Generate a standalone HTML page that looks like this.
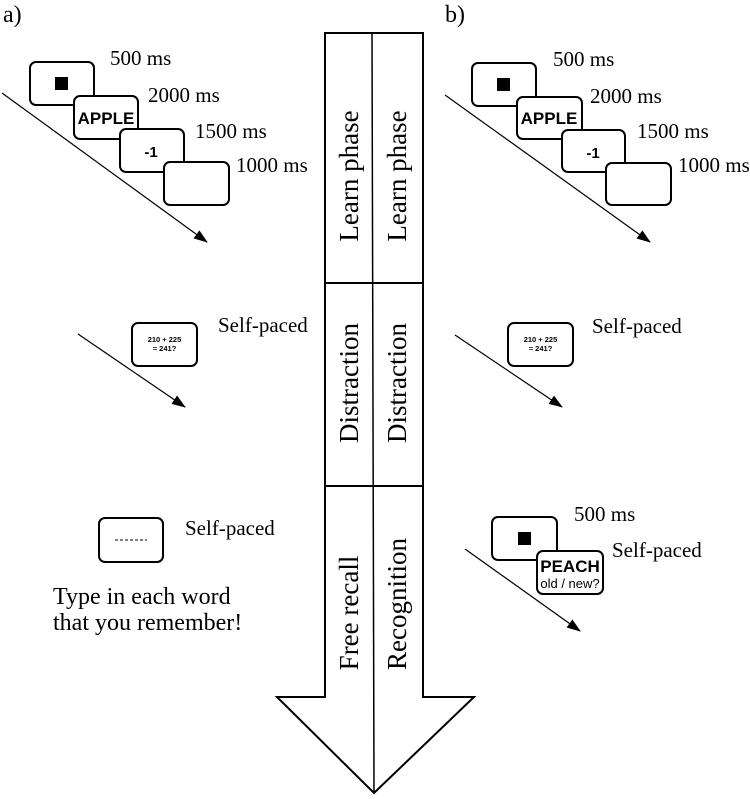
<!DOCTYPE html>
<html><head><meta charset="utf-8"><style>
html,body{margin:0;padding:0;background:#fff;}
svg{display:block;}
.s{font-family:"Liberation Serif",serif;font-size:21px;fill:#000;}
.b{font-family:"Liberation Sans",sans-serif;font-weight:bold;fill:#000;}
.box{fill:#fff;stroke:#000;stroke-width:2;}
</style></head><body>
<svg width="750" height="799" viewBox="0 0 750 799" xmlns="http://www.w3.org/2000/svg">
<defs><marker id="ah" markerWidth="14" markerHeight="10" refX="13" refY="5" orient="auto" markerUnits="userSpaceOnUse"><path d="M0,0 L14,5 L0,10 z" fill="#000"/></marker></defs>
<text x="3" y="22" class="s" style="font-size:24px">a)</text>
<text x="445" y="22" class="s" style="font-size:24px">b)</text>

<!-- a top -->
<line x1="2" y1="93" x2="207" y2="242" stroke="#000" stroke-width="1.2" marker-end="url(#ah)"/>
<rect class="box" x="30" y="62" width="64" height="43" rx="6"/>
<rect x="55" y="77" width="13" height="13" fill="#000"/>
<rect class="box" x="74" y="96" width="64" height="43" rx="6"/>
<text x="106" y="124" class="b" text-anchor="middle" font-size="17">APPLE</text>
<rect class="box" x="120" y="129" width="64" height="43" rx="6"/>
<text x="151" y="157" class="b" text-anchor="middle" font-size="15">-1</text>
<rect class="box" x="164" y="162" width="65" height="43" rx="6"/>
<text x="110" y="65" class="s">500 ms</text>
<text x="148" y="102" class="s">2000 ms</text>
<text x="195" y="138" class="s">1500 ms</text>
<text x="236" y="172" class="s">1000 ms</text>

<!-- b top -->
<line x1="445" y1="95" x2="650" y2="242" stroke="#000" stroke-width="1.2" marker-end="url(#ah)"/>
<rect class="box" x="472" y="63" width="64" height="43" rx="6"/>
<rect x="497" y="78" width="13" height="13" fill="#000"/>
<rect class="box" x="517" y="97" width="65" height="42" rx="6"/>
<text x="549" y="124" class="b" text-anchor="middle" font-size="17">APPLE</text>
<rect class="box" x="562" y="130" width="63" height="42" rx="6"/>
<text x="593" y="158" class="b" text-anchor="middle" font-size="15">-1</text>
<rect class="box" x="606" y="163" width="65" height="42" rx="6"/>
<text x="553" y="66" class="s">500 ms</text>
<text x="590" y="103" class="s">2000 ms</text>
<text x="637" y="138" class="s">1500 ms</text>
<text x="678" y="172" class="s">1000 ms</text>

<!-- distraction -->
<line x1="78" y1="334" x2="185" y2="407" stroke="#000" stroke-width="1.2" marker-end="url(#ah)"/>
<rect class="box" x="132" y="323" width="65" height="43" rx="6"/>
<text x="164.5" y="342" class="b" text-anchor="middle" font-size="7.5">210 + 225</text>
<text x="164.5" y="351" class="b" text-anchor="middle" font-size="7.5">= 241?</text>
<text x="218" y="332" class="s">Self-paced</text>

<line x1="455" y1="335" x2="562" y2="407" stroke="#000" stroke-width="1.2" marker-end="url(#ah)"/>
<rect class="box" x="508" y="323" width="65" height="43" rx="6"/>
<text x="540.5" y="342" class="b" text-anchor="middle" font-size="7.5">210 + 225</text>
<text x="540.5" y="351" class="b" text-anchor="middle" font-size="7.5">= 241?</text>
<text x="592" y="333" class="s">Self-paced</text>

<!-- free recall -->
<rect class="box" x="99" y="518" width="64" height="44" rx="6"/>
<line x1="115" y1="540" x2="147" y2="540" stroke="#000" stroke-width="1" stroke-dasharray="3,2"/>
<text x="185" y="535" class="s">Self-paced</text>
<text x="53" y="604" class="s" style="font-size:24px">Type in each word</text>
<text x="53" y="630" class="s" style="font-size:24px">that you remember!</text>

<!-- recognition -->
<line x1="465" y1="549" x2="580" y2="631" stroke="#000" stroke-width="1.2" marker-end="url(#ah)"/>
<rect class="box" x="492" y="517" width="65" height="43" rx="6"/>
<rect x="518" y="532" width="13" height="13" fill="#000"/>
<rect class="box" x="537" y="551" width="66" height="43" rx="6"/>
<text x="570" y="572" class="b" text-anchor="middle" font-size="17">PEACH</text>
<text x="570" y="588" text-anchor="middle" font-family="Liberation Sans,sans-serif" font-size="13">old / new?</text>
<text x="574" y="521" class="s">500 ms</text>
<text x="612" y="557" class="s">Self-paced</text>

<!-- big arrow -->
<path d="M325,33 L423,33 L423,697 L474,697 L374,793 L277,697 L325,697 Z" fill="#fff" stroke="#000" stroke-width="2"/>
<line x1="372" y1="33" x2="374" y2="793" stroke="#000" stroke-width="1.5"/>
<line x1="325" y1="283" x2="423" y2="283" stroke="#000" stroke-width="2"/>
<line x1="325" y1="486" x2="423" y2="486" stroke="#000" stroke-width="2"/>
<g class="s" style="font-size:27px" text-anchor="middle">
<text transform="translate(358,176) rotate(-90)">Learn phase</text>
<text transform="translate(406,176) rotate(-90)">Learn phase</text>
<text transform="translate(358,383) rotate(-90)">Distraction</text>
<text transform="translate(406,383) rotate(-90)">Distraction</text>
<text transform="translate(358,613) rotate(-90)">Free recall</text>
<text transform="translate(406,604) rotate(-90)">Recognition</text>
</g>
</svg>
</body></html>
